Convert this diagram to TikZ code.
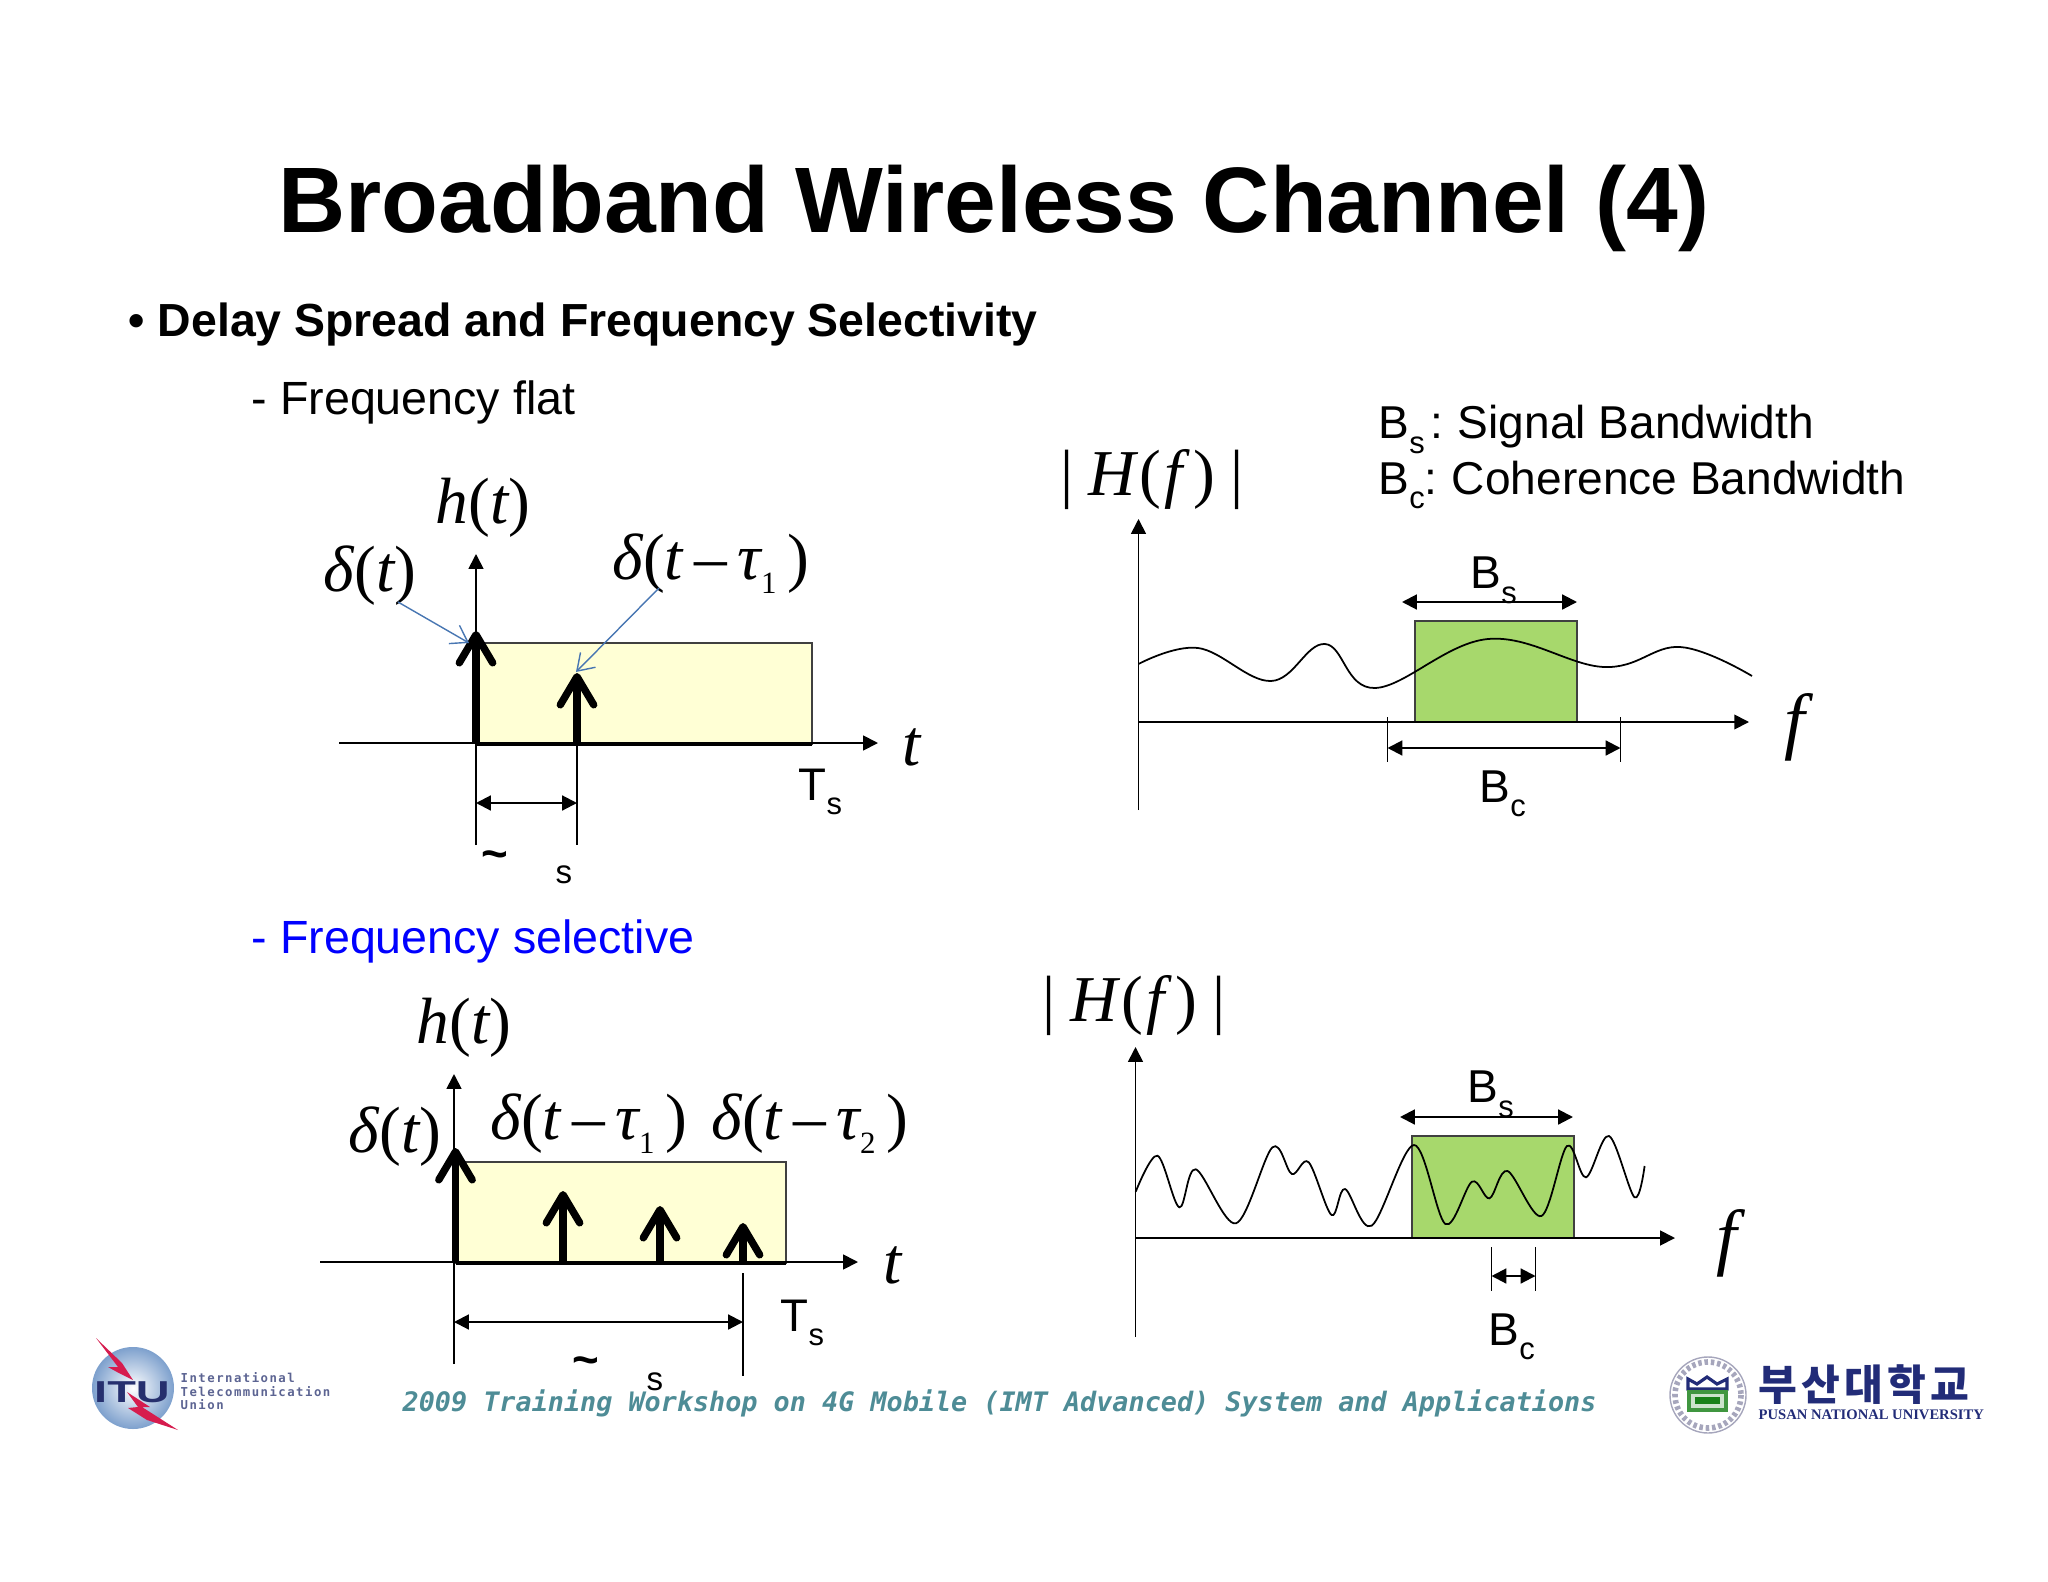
\documentclass[tikz,border=0pt]{standalone}
\usepackage{fontspec}
\usetikzlibrary{arrows.meta}
\setmainfont{Liberation Sans}
\newfontfamily\symbfont{Liberation Serif}
\newfontfamily\footfont{DejaVu Sans Mono}
\newfontfamily\itufont[LetterSpace=12]{DejaVu Sans Mono}
\newfontfamily\krfont[LetterSpace=10]{Noto Sans CJK KR}
\definecolor{panelyellow}{RGB}{255,255,213}
\definecolor{panelgreen}{RGB}{167,216,108}
\definecolor{linkblue}{RGB}{72,118,178}
\definecolor{footteal}{RGB}{78,140,150}
\definecolor{ituNavy}{RGB}{38,48,110}
\definecolor{ituRed}{RGB}{214,28,78}
\definecolor{globeBlue}{RGB}{125,160,205}
\definecolor{puNavy}{RGB}{34,44,120}
\newcommand{\lowsub}[2][-0.6ex]{\raisebox{#1}{\fontsize{8.8}{8.8}\selectfont #2}}
\newcommand{\ivar}[1]{{\itshape #1}}
\tikzset{
  arr/.style={line width=0.5pt,-{Triangle[length=4.2pt,width=4.2pt]}},
  dimarr/.style={line width=0.6pt,{Triangle[length=4.2pt,width=4.2pt]}-{Triangle[length=4.2pt,width=4.2pt]}},
  thin line/.style={line width=0.45pt},
  callout/.style={linkblue,line width=0.4pt,-{Straight Barb[length=4.5pt,width=6pt]}},
  impulse/.style={line width=2pt,-{Straight Barb[length=8pt,width=9.5pt,line width=2.1pt,round]}},
  box yellow/.style={fill=panelyellow,draw=black!75,line width=0.5pt},
  box green/.style={fill=panelgreen,draw=black!75,line width=0.5pt},
  mathlabel/.style={font=\symbfont\fontsize{18.6}{20}\selectfont,inner sep=0pt},
  flabel/.style={font=\symbfont\fontsize{21}{24}\selectfont,inner sep=0pt},
  sanslabel/.style={font=\fontsize{13.1}{15}\selectfont,inner sep=0pt,anchor=base west},
  itulabel/.style={inner sep=0pt,anchor=west,font=\itufont\bfseries\fontsize{3.5}{4}\selectfont,ituNavy!75},
}
\begin{document}
\begin{tikzpicture}[x=0.01cm,y=-0.01cm]
\useasboundingbox (0,0) rectangle (2048,1582);

\node[inner sep=0pt,anchor=base,font=\bfseries\fontsize{26.45}{30}\selectfont] (title) at (994,232) {Broadband Wireless Channel (4)};
\node[inner sep=0pt,anchor=base west,font=\bfseries\fontsize{13.2}{16}\selectfont] (topic) at (128,337) {• Delay Spread and Frequency Selectivity};
\node[inner sep=0pt,anchor=base west,font=\fontsize{13.25}{16}\selectfont] (flat) at (251,414) {- Frequency flat};
\node[inner sep=0pt,anchor=base west,font=\fontsize{13.25}{16}\selectfont,blue] (selective) at (251,953) {- Frequency selective};
\node[sanslabel] (legends) at (1378,439) {B\lowsub{s}\kern1.5pt:\kern-0.6pt{} Signal Bandwidth};
\node[sanslabel] (legendc) at (1378,494) {B\lowsub{c}:\kern-0.8pt{} Coherence Bandwidth};

\coordinate (oa) at (476,743);
\coordinate (oaL) at (339,743);
\coordinate (oaR) at (878,743);
\coordinate (oaT) at (476,554);
\coordinate (oaB) at (476,845);
\coordinate (ra1) at (476,643);
\coordinate (ra2) at (812,744);
\coordinate (ia) at (577,743);
\coordinate (iaB) at (577,845);
\coordinate (ia0) at (476,744);
\coordinate (ia0T) at (476,631);
\coordinate (iaT) at (577,673);
\coordinate (da1) at (476,803);
\coordinate (da2) at (577,803);
\draw[box yellow] (ra1) rectangle (ra2);
\draw[arr] (oaL) -- (oaR);
\draw[arr] (oaB) -- (oaT);
\draw[thin line] (ia) -- (iaB);
\draw[line width=1pt] (ia0) -- (ra2);
\draw[impulse] (ia0) -- (ia0T);
\draw[impulse] (ia) -- (iaT);
\draw[dimarr] (da1) -- (da2);
\node[mathlabel] (hta) at (483,508) {\ivar{h}(\ivar{t})};
\node[mathlabel] (da) at (370,576) {\ivar{δ}(\ivar{t})};
\node[mathlabel] (dba) at (711,564) {\ivar{δ}(\ivar{t}\,–\,\ivar{τ}\lowsub[-0.45ex]{1}\,)};
\node[mathlabel] (ta) at (912,747) {\ivar{t}};
\node[inner sep=0pt,anchor=base west,font=\fontsize{13}{15}\selectfont] (tsa) at (798,800) {T\lowsub[-0.6ex]{s}};
\node[inner sep=0pt,font=\bfseries\fontsize{13}{15}\selectfont] (tla) at (495,860) {\~{}};
\node[inner sep=0pt,font=\fontsize{9.4}{11}\selectfont] (sa) at (564,875) {s};
\coordinate (ca1) at (398,602);
\coordinate (ca2) at (469,643);
\coordinate (cb1) at (659,588);
\coordinate (cb2) at (576,672);
\draw[callout] (ca1) -- (ca2);
\draw[callout] (cb1) -- (cb2);

\coordinate (ob) at (1138.5,722);
\coordinate (obR) at (1749,722);
\coordinate (obT) at (1138.5,519);
\coordinate (obB) at (1138.5,810);
\coordinate (rb1) at (1415,621);
\coordinate (rb2) at (1577,722);
\coordinate (sb1) at (1402,602);
\coordinate (sb2) at (1577,602);
\coordinate (cbL) at (1387.5,717);
\coordinate (cbLb) at (1387.5,762);
\coordinate (cbR) at (1620.5,717);
\coordinate (cbRb) at (1620.5,762);
\coordinate (wb1) at (1387.5,748);
\coordinate (wb2) at (1620.5,748);
\draw[box green] (rb1) rectangle (rb2);
\draw[arr] (ob) -- (obR);
\draw[arr] (obB) -- (obT);
\draw[thin line] (cbL) -- (cbLb);
\draw[thin line] (cbR) -- (cbRb);
\draw[dimarr] (sb1) -- (sb2);
\draw[dimarr] (wb1) -- (wb2);
\draw[line width=0.5pt] plot[smooth,tension=0.65] coordinates {(1138.5,664) (1198,648) (1271,681) (1325,644) (1375,688) (1488,639) (1604,667) (1680,647) (1752,676)};
\node[mathlabel] (hfa) at (1152,480) {|\kern4.3pt\ivar{H}\kern1pt(\kern1pt\ivar{f}\kern3pt)\kern4.3pt|};
\node[flabel] (fa) at (1795,727) {\ivar{f}};
\node[sanslabel] (bsa) at (1470,588) {B\lowsub[-0.65ex]{s}};
\node[sanslabel] (bca) at (1479,802) {B\lowsub{c}};

\coordinate (oc) at (454,1262);
\coordinate (ocL) at (320,1262);
\coordinate (ocR) at (858,1262);
\coordinate (ocT) at (454,1074);
\coordinate (ocB) at (454,1364);
\coordinate (rc1) at (454,1162);
\coordinate (rc2) at (786,1263);
\coordinate (ic0) at (455.5,1263);
\coordinate (ic0T) at (455.5,1148);
\coordinate (ic1) at (563,1263);
\coordinate (ic1T) at (563,1191);
\coordinate (ic2) at (660,1263);
\coordinate (ic2T) at (660,1206);
\coordinate (ic3) at (743,1263);
\coordinate (ic3T) at (743,1223);
\coordinate (dc3) at (743,1273);
\coordinate (dc3b) at (743,1376);
\coordinate (dc1) at (454,1322);
\coordinate (dc2) at (743,1322);
\draw[box yellow] (rc1) rectangle (rc2);
\draw[arr] (ocL) -- (ocR);
\draw[arr] (ocB) -- (ocT);
\draw[thin line] (dc3) -- (dc3b);
\draw[line width=1pt] (ic0) -- (rc2);
\draw[impulse] (ic0) -- (ic0T);
\draw[impulse] (ic1) -- (ic1T);
\draw[impulse] (ic2) -- (ic2T);
\draw[impulse] (ic3) -- (ic3T);
\draw[dimarr] (dc1) -- (dc2);
\node[mathlabel] (htc) at (464,1028) {\ivar{h}(\ivar{t})};
\node[mathlabel] (dc) at (395,1137) {\ivar{δ}(\ivar{t})};
\node[mathlabel] (dbc) at (589,1124) {\ivar{δ}(\ivar{t}\,–\,\ivar{τ}\lowsub[-0.45ex]{1}\,)};
\node[mathlabel] (dcc) at (810,1124) {\ivar{δ}(\ivar{t}\,–\,\ivar{τ}\lowsub[-0.45ex]{2}\,)};
\node[mathlabel] (tc) at (893,1265) {\ivar{t}};
\node[inner sep=0pt,anchor=base west,font=\fontsize{13}{15}\selectfont] (tsc) at (780,1331) {T\lowsub[-0.6ex]{s}};
\node[inner sep=0pt,font=\bfseries\fontsize{13}{15}\selectfont] (tlc) at (586,1366) {\~{}};
\node[inner sep=0pt,font=\fontsize{9.4}{11}\selectfont] (sc) at (655,1382) {s};

\coordinate (od) at (1135.5,1238);
\coordinate (odR) at (1675,1238);
\coordinate (odT) at (1135.5,1047);
\coordinate (odB) at (1135.5,1337);
\coordinate (rd1) at (1412,1136);
\coordinate (rd2) at (1574,1238);
\coordinate (sd1) at (1400,1117);
\coordinate (sd2) at (1573,1117);
\coordinate (cdL) at (1491.5,1247);
\coordinate (cdLb) at (1491.5,1291);
\coordinate (cdR) at (1535.5,1247);
\coordinate (cdRb) at (1535.5,1291);
\coordinate (wd1) at (1491.5,1276);
\coordinate (wd2) at (1535.5,1276);
\draw[box green] (rd1) rectangle (rd2);
\draw[arr] (od) -- (odR);
\draw[arr] (odB) -- (odT);
\draw[thin line] (cdL) -- (cdLb);
\draw[thin line] (cdR) -- (cdRb);
\draw[dimarr] (sd1) -- (sd2);
\draw[dimarr] (wd1) -- (wd2);
\draw[line width=0.5pt] plot[smooth,tension=0.55] coordinates {(1135.7,1191.7) (1157.5,1155.7) (1179.3,1207.3) (1195.8,1169.3) (1236,1223.3) (1272.4,1147.3) (1291.8,1174) (1308.7,1162.3) (1331.5,1215) (1345,1189) (1371.7,1225.7) (1414,1145) (1445.4,1224) (1472,1181.7) (1489.5,1198.3) (1507.5,1171) (1541.4,1216) (1567,1146) (1586,1177.3) (1609,1136) (1634.5,1197.3) (1644.6,1166)};
\node[mathlabel] (hfc) at (1134,1006) {|\kern4.3pt\ivar{H}\kern1pt(\kern1pt\ivar{f}\kern3pt)\kern4.3pt|};
\node[flabel] (fc) at (1726.5,1243) {\ivar{f}};
\node[sanslabel] (bsc) at (1467,1102) {B\lowsub[-0.65ex]{s}};
\node[sanslabel] (bcc) at (1488,1345) {B\lowsub{c}};

\node[inner sep=0pt,anchor=base west,font=\footfont\bfseries\itshape\fontsize{7.62}{10}\selectfont,footteal] (footer) at (402,1411) {2009 Training Workshop on 4G Mobile (IMT Advanced) System and Applications};

\shade[inner color=white,outer color=globeBlue] (133,1388) circle (41);
\fill[ituRed] (96,1338) -- (122,1363) -- (133,1380) -- (117,1372) -- (108,1367) -- (118,1367) -- cycle;
\fill[ituRed] (127,1392) -- (150,1407) -- (142,1407) -- (178,1430) -- (147,1420) -- (128,1408) -- (138,1407) -- cycle;
\node[inner sep=0pt,font=\bfseries\fontsize{8.6}{10}\selectfont,ituNavy] (itu) at (132,1392) {\scalebox{1.55}[1]{ITU}};
\node[itulabel] (itu1) at (180,1378) {International};
\node[itulabel] (itu2) at (180,1392) {Telecommunication};
\node[itulabel] (itu3) at (180,1405) {Union};

\draw[blue!25!black!35,line width=1.6pt,dash pattern=on 1pt off 0.8pt] (1708,1395) circle (33);
\draw[blue!25!black!35,line width=0.4pt] (1708,1395) circle (38);
\draw[puNavy,line width=0.9pt] (1688,1389) -- (1688,1379) -- (1697,1384) -- (1707,1377) -- (1717,1384) -- (1727,1379) -- (1727,1389) -- cycle;
\draw[green!45!black!75,fill=green!45!black!20,line width=1.1pt] (1689,1392) rectangle (1726,1410);
\fill[green!45!black!90] (1695,1397) rectangle (1720,1404);
\node[inner sep=0pt,anchor=west,font=\krfont\bfseries\fontsize{12}{14}\selectfont,puNavy] (univk) at (1758,1385) {부산대학교};
\node[inner sep=0pt,anchor=west,font=\symbfont\bfseries\fontsize{4.15}{6}\selectfont,puNavy] (unive) at (1758,1415) {PUSAN NATIONAL UNIVERSITY};
\end{tikzpicture}
\end{document}
